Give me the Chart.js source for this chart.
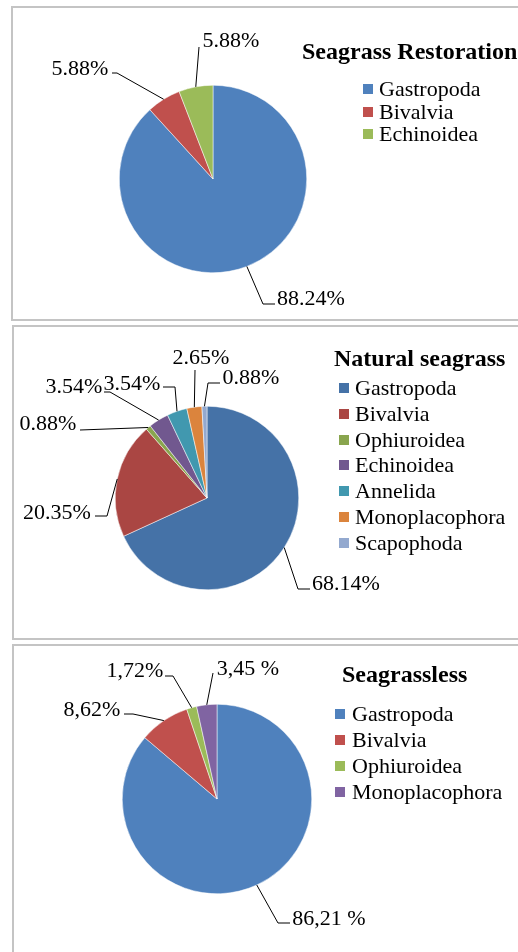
<!DOCTYPE html>
<html lang="en">
<head>
<meta charset="UTF-8">
<title>Macrozoobenthos composition</title>
<script src="https://cdn.jsdelivr.net/npm/chart.js"></script>
<style>
body {
    margin: 0;
    width: 518px;
    height: 952px;
    overflow: hidden;
    background: #fff;
    position: relative;
    font-family: "Liberation Serif", "Times New Roman", serif;
    color: #000;
}
.panel {
    position: absolute;
    border: 2px solid #c4c4c4;
    box-sizing: border-box;
}
canvas {
    position: absolute;
    left: 0;
}
.title {
    position: absolute;
    font-weight: bold;
    font-size: 24px;
    line-height: 24px;
    white-space: nowrap;
}
.item {
    position: absolute;
    font-size: 22px;
    line-height: 22px;
    white-space: nowrap;
}
.item span {
    position: absolute;
    width: 10px;
    height: 10px;
    top: 6px;
}
</style>
</head>
<body>

<div class="panel" style="left:11px; top:6px; width:530px; height:315px;"></div>
<div class="panel" style="left:12px; top:325px; width:530px; height:315px;"></div>
<div class="panel" style="left:12px; top:644px; width:530px; height:330px;"></div>

<canvas id="rest" width="518" height="322" style="top:0px"></canvas>
<canvas id="nat" width="518" height="320" style="top:322px"></canvas>
<canvas id="less" width="518" height="310" style="top:642px"></canvas>

<div class="title" style="left:302px; top:39px;">Seagrass Restoration</div>
<div class="title" style="left:334px; top:346px;">Natural seagrass</div>
<div class="title" style="left:342px; top:662px;">Seagrassless</div>
<div id="legends"></div>

<script>
// Seagrass Restoration
const restLabels = ['Gastropoda', 'Bivalvia', 'Echinoidea'];
const restValues = [88.24, 5.88, 5.88];
const restText = ['88.24%', '5.88%', '5.88%'];
const restColors = ['#4F81BD', '#C0504D', '#9BBB59'];

// Natural seagrass
const natLabels = ['Gastropoda', 'Bivalvia', 'Ophiuroidea', 'Echinoidea', 'Annelida', 'Monoplacophora', 'Scapophoda'];
const natValues = [68.14, 20.35, 0.88, 3.54, 3.54, 2.65, 0.88];
const natText = ['68.14%', '20.35%', '0.88%', '3.54%', '3.54%', '2.65%', '0.88%'];
const natColors = ['#4572A7', '#AA4643', '#89A54E', '#71588F', '#4198AF', '#DB843D', '#93A9CF'];

// Seagrassless
const lessLabels = ['Gastropoda', 'Bivalvia', 'Ophiuroidea', 'Monoplacophora'];
const lessValues = [86.21, 8.62, 1.72, 3.45];
const lessText = ['86,21 %', '8,62%', '1,72%', '3,45 %'];
const lessColors = ['#4F81BD', '#C0504D', '#9BBB59', '#8064A2'];

// label placement relative to the pie centre: text centre, leader end, optional elbow
const restLayout = [
    { t: [98, 119], a: [62, 125], e: [50, 125] },
    { t: [-133, -111], a: [-101, -106], e: [-96, -106] },
    { t: [18, -139], a: [-14, -132] }
];
const natLayout = [
    { t: [139, 85], a: [103, 91], e: [91, 91] },
    { t: [-150, 14], a: [-112, 18], e: [-100, 18] },
    { t: [-159, -75], a: [-127, -68] },
    { t: [-133, -112], a: [-103, -106], e: [-97, -106] },
    { t: [-75, -115], a: [-44, -111], e: [-32, -111] },
    { t: [-6, -141], a: [-12, -128] },
    { t: [44, -121], a: [13, -115], e: [1, -115] }
];
const lessLayout = [
    { t: [112, 119], a: [73, 124], e: [61, 124] },
    { t: [-125, -90], a: [-93, -85], e: [-84, -85] },
    { t: [-82, -129], a: [-52, -123], e: [-44, -123] },
    { t: [31, -131], a: [-4, -126] }
];

const leaderLabels = {
    id: 'leaderLabels',
    afterDatasetsDraw(chart, args, opts) {
        const ctx = chart.ctx;
        const arcs = chart.getDatasetMeta(0).data;
        ctx.save();
        ctx.strokeStyle = '#000';
        ctx.lineWidth = 1;
        ctx.fillStyle = '#000';
        ctx.font = '22px "Liberation Serif", "Times New Roman", serif';
        ctx.textAlign = 'center';
        ctx.textBaseline = 'alphabetic';
        arcs.forEach((arc, i) => {
            const p = arc.getProps(['x', 'y', 'startAngle', 'endAngle', 'outerRadius'], true);
            const mid = (p.startAngle + p.endAngle) / 2;
            const L = opts.layout[i];
            ctx.beginPath();
            ctx.moveTo(p.x + Math.cos(mid) * p.outerRadius, p.y + Math.sin(mid) * p.outerRadius);
            if (L.e) ctx.lineTo(p.x + L.e[0], p.y + L.e[1]);
            ctx.lineTo(p.x + L.a[0], p.y + L.a[1]);
            ctx.stroke();
            ctx.fillText(opts.texts[i], p.x + L.t[0], p.y + L.t[1] + 7);
        });
        ctx.restore();
    }
};

function makePie(id, labels, values, colors, texts, layout, pad) {
    return new Chart(document.getElementById(id), {
        type: 'pie',
        data: {
            labels: labels,
            datasets: [{
                data: values,
                backgroundColor: colors,
                borderColor: '#ffffff',
                borderWidth: 0.5
            }]
        },
        options: {
            responsive: false,
            animation: false,
            layout: { padding: pad },
            plugins: {
                legend: { display: false },
                tooltip: { enabled: false },
                leaderLabels: { layout: layout, texts: texts }
            }
        },
        plugins: [leaderLabels]
    });
}

makePie('rest', restLabels, restValues, restColors, restText, restLayout,
    { left: 119, right: 211, top: 85, bottom: 49 });
makePie('nat', natLabels, natValues, natColors, natText, natLayout,
    { left: 115, right: 219, top: 84, bottom: 52 });
makePie('less', lessLabels, lessValues, lessColors, lessText, lessLayout,
    { left: 122, right: 206, top: 62, bottom: 58 });

// legends: marker x, text x, first row centre, row step
function legend(labels, colors, mx, tx, y0, step) {
    const box = document.getElementById('legends');
    labels.forEach((name, i) => {
        const row = document.createElement('div');
        row.className = 'item';
        row.style.left = mx + 'px';
        row.style.top = (y0 + i * step - 11) + 'px';
        row.style.paddingLeft = (tx - mx) + 'px';
        const sw = document.createElement('span');
        sw.style.left = '0px';
        sw.style.background = colors[i];
        row.appendChild(sw);
        row.appendChild(document.createTextNode(name));
        box.appendChild(row);
    });
}
legend(restLabels, restColors, 363, 379, 89, 22.5);
legend(natLabels, natColors, 339, 355, 388, 25.8);
legend(lessLabels, lessColors, 335, 352, 714, 26);
</script>
</body>
</html>
